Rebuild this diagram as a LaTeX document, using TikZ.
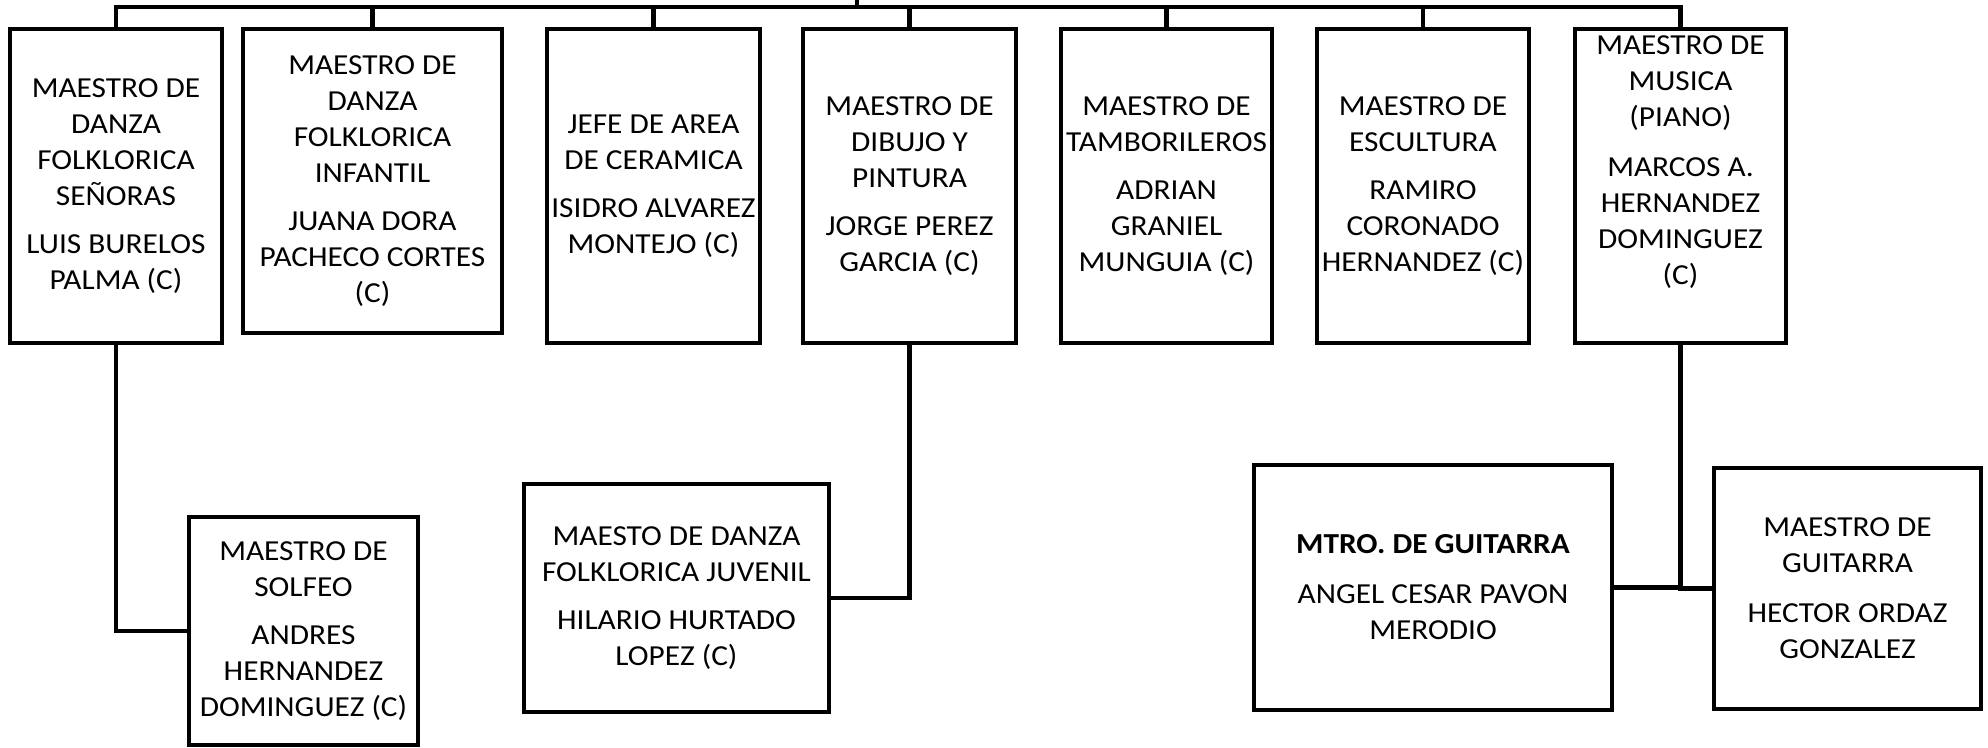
\documentclass[tikz,border=0pt]{standalone}
\usepackage{fontspec}
\setmainfont{Carlito}[FakeStretch=1.08]
\begin{document}
\begin{tikzpicture}[x=0.01cm,y=-0.01cm,line width=0.045cm,
  puesto/.style={draw,align=center,inner sep=0pt,font=\fontsize{8.25pt}{10.24pt}\selectfont},
  alto/.style={minimum height=3.14cm}]
\useasboundingbox (0,0) rectangle (1988,747);
\node[puesto,alto,minimum width=2.12cm] (senoras) at (116,186) {MAESTRO DE\\DANZA\\FOLKLORICA\\SEÑORAS\\[0.12cm]LUIS BURELOS\\PALMA (C)};
\node[puesto,minimum width=2.59cm,minimum height=3.04cm] (infantil) at (372.5,181) {MAESTRO DE\\DANZA\\FOLKLORICA\\INFANTIL\\[0.12cm]JUANA DORA\\PACHECO CORTES\\(C)};
\node[puesto,alto,minimum width=2.13cm] (ceramica) at (653.5,186) {JEFE DE AREA\\DE CERAMICA\\[0.12cm]ISIDRO ALVAREZ\\MONTEJO (C)};
\node[puesto,alto,minimum width=2.13cm] (dibujo) at (909.5,186) {MAESTRO DE\\DIBUJO Y\\PINTURA\\[0.12cm]JORGE PEREZ\\GARCIA (C)};
\node[puesto,alto,minimum width=2.11cm] (tambor) at (1166.5,186) {MAESTRO DE\\TAMBORILEROS\\[0.12cm]ADRIAN\\GRANIEL\\MUNGUIA (C)};
\node[puesto,alto,minimum width=2.12cm] (escultura) at (1423,186) {MAESTRO DE\\ESCULTURA\\[0.12cm]RAMIRO\\CORONADO\\HERNANDEZ (C)};
\node[puesto,alto,minimum width=2.11cm,text depth=0.52cm] (musica) at (1680.5,186) {MAESTRO DE\\MUSICA\\(PIANO)\\[0.14cm]MARCOS A.\\HERNANDEZ\\DOMINGUEZ\\(C)};
\node[puesto,minimum width=2.29cm,minimum height=2.28cm] (solfeo) at (303.5,631) {MAESTRO DE\\SOLFEO\\[0.12cm]ANDRES\\HERNANDEZ\\DOMINGUEZ (C)};
\node[puesto,minimum width=3.05cm,minimum height=2.28cm] (juvenil) at (676.5,598) {MAESTO DE DANZA\\FOLKLORICA JUVENIL\\[0.12cm]HILARIO HURTADO\\LOPEZ (C)};
\node[puesto,minimum width=3.58cm,minimum height=2.45cm] (guitarra) at (1433,587.5) {\textbf{MTRO. DE GUITARRA}\\[0.14cm]ANGEL CESAR PAVON\\MERODIO};
\node[puesto,minimum width=2.67cm,minimum height=2.41cm] (hector) at (1847.5,588.5) {MAESTRO DE\\GUITARRA\\[0.14cm]HECTOR ORDAZ\\GONZALEZ};
\coordinate (cima) at (857,-20);
\coordinate (barra) at (857,7);
\draw (cima) -- (barra);
\foreach \n in {senoras,infantil,ceramica,dibujo,tambor,escultura,musica}
  \draw (barra) -| (\n.north);
\draw (senoras.south) |- (solfeo.west);
\draw (dibujo.south) |- (juvenil.east);
\draw (musica.south) |- (guitarra.east);
\draw (musica.south) |- (hector.west);
\end{tikzpicture}
\end{document}
